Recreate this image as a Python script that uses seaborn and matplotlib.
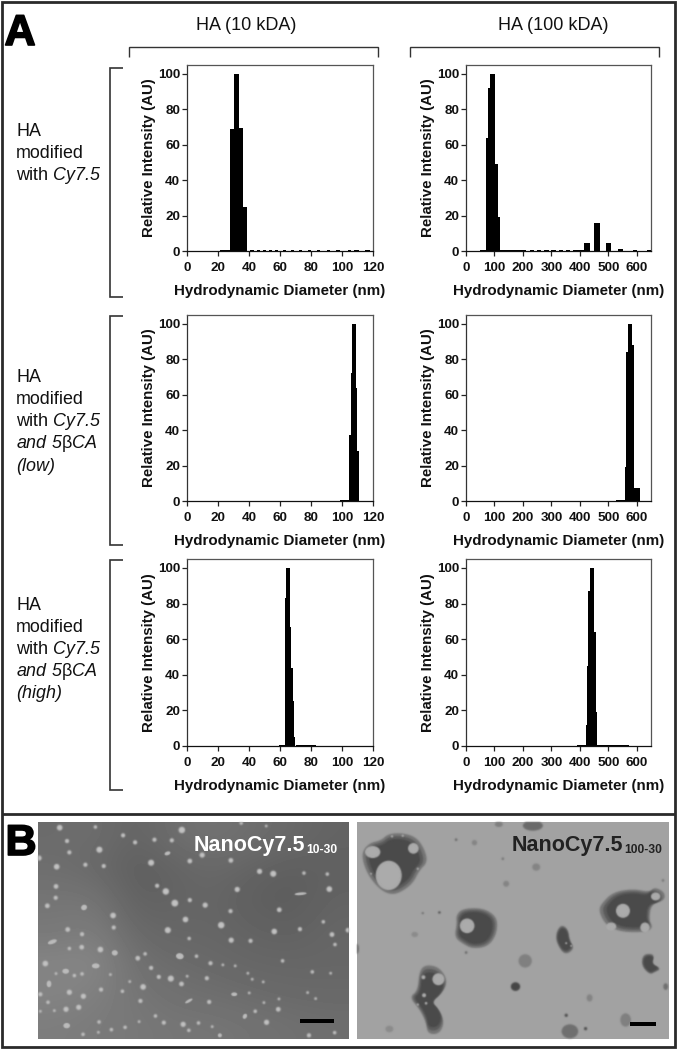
import numpy as np
import seaborn as sns
import matplotlib.pyplot as plt
import matplotlib.patheffects as pe
from matplotlib.lines import Line2D
from matplotlib.patches import Ellipse, Polygon, Rectangle

W, H = 678, 1050

# Size distributions: bin edges (nm) and relative intensity per bin
EDGES_10_CY = [21, 28, 30.5, 33.5, 36, 39, 40.5, 43, 45, 47, 49, 51, 53, 55, 57, 59, 62, 64, 67, 69, 72, 74,
               78, 80, 84, 86, 90, 92, 96, 99, 104, 106, 108, 111, 115, 118]
VALS_10_CY = [0.4, 69, 100, 69.5, 25, 0.1, 0.5, 0, 0.5, 0, 0.5, 0, 0.5, 0, 0.5, 0, 0.5, 0, 0.5, 0, 0.5, 0,
              0.5, 0, 0.5, 0, 0.5, 0, 0.5, 0, 0.5, 0, 0.5, 0, 0.5]
EDGES_100_CY = [50, 70, 78, 85, 103, 111, 120, 200, 212, 225, 240, 250, 265, 275, 290, 300, 315, 325, 340, 350,
                365, 375, 414, 434, 451, 471, 491, 511, 534, 553, 585, 601, 636, 650]
VALS_100_CY = [0.4, 64, 92, 100, 49, 19, 0.5, 0.5, 0, 0.5, 0, 0.5, 0, 0.5, 0, 0.5, 0, 0.5, 0, 0.5,
               0, 0.5, 4.5, 0, 16, 0, 4.5, 0, 1.3, 0, 0.6, 0, 0.5]
EDGES_10_LOW = [98.5, 104.5, 105.6, 106.7, 108.8, 109.7, 111]
VALS_10_LOW = [0.4, 37, 72, 100, 64, 28]
EDGES_100_LOW = [528, 558, 563, 569, 584, 590, 610]
VALS_100_LOW = [0.4, 19, 84, 100, 88, 7.5]
EDGES_10_HIGH = [59.5, 63.1, 63.8, 66.4, 67.4, 68.3, 69.1, 70, 83]
VALS_10_HIGH = [0.4, 83, 100, 67, 44, 25, 5, 0.5]
EDGES_100_HIGH = [390, 420, 425, 430, 435, 451, 457, 461.5, 571]
VALS_100_HIGH = [0.4, 12, 45, 87, 100, 64, 19, 0.5]

X_TICKS_10 = [0, 20, 40, 60, 80, 100, 120]
X_TICKS_100 = [0, 100, 200, 300, 400, 500, 600]
Y_TICKS = [0, 20, 40, 60, 80, 100]

COLUMN_TITLES = ["HA (10 kDA)", "HA (100 kDA)"]
# mathtext rm is set to the italic face below, sf to the upright one for the beta
ROW_LABELS = [
    ["HA", "modified", r"with $\mathrm{Cy7.5}$"],
    ["HA", "modified", r"with $\mathrm{Cy7.5}$", r"$\mathrm{and\ 5}\mathsf{\beta}\mathrm{CA}$", r"$\mathrm{(low)}$"],
    ["HA", "modified", r"with $\mathrm{Cy7.5}$", r"$\mathrm{and\ 5}\mathsf{\beta}\mathrm{CA}$", r"$\mathrm{(high)}$"],
]

BG_LEFT = [
    [.42, .43, .39, .43, .45, .43, .41, .39],
    [.43, .41, .37, .39, .41, .39, .37, .38],
    [.46, .46, .38, .39, .40, .37, .36, .39],
    [.47, .49, .41, .40, .40, .39, .38, .40],
    [.52, .53, .44, .42, .41, .40, .40, .40],
    [.52, .50, .46, .44, .43, .42, .41, .41],
    [.49, .48, .47, .46, .46, .45, .44, .43],
]
DOTS_X = [68, 175, 434, 612, 687, 258, 90, 294, 352, 404, 187, 97, 6, 458, 495, 581, 59, 145, 200, 342, 667, 708,
          800, 870, 600, 876, 57, 360, 386, 56, 458, 413, 31, 504, 580, 726, 228, 445, 858, 552, 92, 230, 392, 711,
          788, 932, 884, 135, 582, 640, 456, 97, 134, 190, 893, 302, 324, 25, 520, 478, 736, 342, 557, 594, 825, 57,
          112, 135, 220, 365, 401, 509, 450, 645, 278, 433, 678, 318, 97, 192, 256, 139, 10, 811, 33, 310, 516, 125,
          87, 835, 723, 654, 355, 688, 186, 306, 380, 438, 484, 264, 223, 184, 138, 455, 815, 892, 525, 10, 52, 725,
          680, 636, 632, 880]
DOTS_Y = [22, 20, 29, 8, 17, 45, 62, 66, 58, 60, 88, 96, 113, 122, 104, 120, 139, 133, 137, 127, 153, 160,
          158, 161, 207, 206, 198, 196, 213, 232, 239, 248, 256, 254, 272, 268, 285, 297, 304, 314, 327, 321, 329, 333,
          326, 329, 342, 341, 359, 361, 354, 384, 380, 387, 372, 413, 400, 429, 428, 407, 421, 442, 433, 436, 454, 459,
          465, 460, 462, 469, 474, 473, 467, 476, 483, 490, 484, 499, 515, 507, 512, 527, 521, 516, 545, 541, 544, 560,
          566, 534, 566, 572, 586, 605, 604, 603, 606, 611, 607, 620, 627, 635, 641, 629, 644, 636, 618, 572, 570, 535,
          546, 517, 458, 458]
DOTS_S = [9, 5, 11, 5, 4, 6, 6, 6, 6, 6, 10, 6, 8, 7, 8, 7, 9, 6, 6, 10, 8, 10,
          5, 5, 8, 9, 7, 6, 11, 6, 6, 12, 7, 8, 6, 7, 9, 9, 5, 11, 7, 6, 10, 9,
          6, 7, 7, 6, 8, 6, 5, 5, 7, 9, 5, 7, 5, 9, 6, 5, 5, 6, 4, 4, 5, 4,
          5, 5, 4, 6, 10, 6, 4, 4, 4, 7, 4, 9, 8, 6, 5, 8, 6, 4, 5, 6, 6, 8,
          8, 4, 7, 5, 5, 8, 5, 4, 6, 8, 5, 5, 5, 4, 5, 5, 6, 5, 4, 4, 4, 4,
          4, 4, 4, 4]
BIG_X = [141, 46, 176, 233, 86, 36, 428, 455, 591, 623, 89, 790, 391, 548]
BIG_Y = [261, 364, 436, 397, 452, 490, 407, 541, 521, 587, 615, 220, 99, 644]
BIG_W = [18, 28, 23, 18, 20, 14, 23, 25, 18, 12, 20, 36, 18, 12]
BIG_H = [16, 12, 15, 16, 15, 20, 18, 8, 11, 16, 16, 8, 11, 12]
BIG_A = [-30, -20, 0, 0, 0, 0, 10, -30, 0, 30, 0, -5, -20, 0]

# Micrograph, right: outlines of the dark aggregates, their holes and smaller specks
BLOB_1 = [(97, 40), (140, 38), (180, 50), (205, 85), (215, 125), (190, 150), (170, 190), (130, 218), (100, 222),
          (70, 205), (40, 170), (22, 130), (18, 95), (40, 68), (75, 60)]
BLOB_2 = [(318, 265), (370, 262), (405, 275), (425, 300), (420, 345), (395, 378), (350, 385), (320, 370),
          (295, 350), (302, 310), (300, 285)]
BLOB_3 = [(735, 250), (770, 215), (830, 205), (880, 215), (895, 200), (925, 215), (925, 240), (885, 250),
          (878, 300), (890, 320), (870, 335), (800, 335), (760, 320), (740, 300), (728, 270)]
BLOB_4 = [(190, 450), (210, 432), (250, 440), (275, 480), (260, 515), (225, 545), (250, 570), (265, 605),
          (250, 640), (215, 640), (210, 605), (190, 565), (160, 530), (185, 510)]
BLOB_5 = [(615, 312), (635, 325), (640, 360), (655, 385), (625, 405), (600, 365), (600, 335)]
BLOB_6 = [(860, 400), (895, 400), (885, 430), (915, 445), (895, 455), (880, 462), (855, 435)]
BLOBS = [BLOB_1, BLOB_2, BLOB_3, BLOB_4, BLOB_5, BLOB_6]
HOLE_X = [50, 172, 98, 333, 800, 898, 765, 866, 247, 202, 204, 140, 108, 185, 45, 630, 645, 185, 210]
HOLE_Y = [95, 84, 165, 316, 271, 228, 318, 321, 476, 470, 524, 46, 48, 145, 160, 368, 376, 552, 548]
HOLE_W = [46, 32, 78, 44, 42, 28, 30, 28, 36, 12, 12, 7, 7, 7, 6, 6, 6, 7, 8]
HOLE_H = [36, 32, 88, 44, 42, 24, 24, 30, 36, 12, 12, 7, 7, 7, 6, 6, 6, 7, 8]
SPECK_X = [507, 478, 641, 530, 808, 540, 450, 355, 428, 176, 100, 700, 3, 928, 300, 250, 200, 630, 688, 330, 920, 440]
SPECK_Y = [421, 498, 632, 16, 598, 140, 190, 67, 12, 342, 625, 532, 385, 498, 58, 276, 278, 584, 624, 396, 180, 115]
SPECK_W = [40, 28, 50, 60, 32, 24, 18, 16, 24, 20, 24, 18, 12, 14, 8, 8, 7, 10, 10, 8, 8, 8]
SPECK_H = [40, 26, 42, 30, 40, 22, 18, 16, 16, 16, 20, 22, 30, 20, 8, 7, 6, 10, 10, 8, 8, 8]
SPECK_G = [.5, .28, .44, .42, .5, .52, .52, .52, .5, .55, .55, .52, .44, .44, .42, .32, .42, .32, .32, .42, .47, .47]


def soft(img, dpi, radius=3, sigma=1.0):
    # gaussian blur for one artist, the micrographs are out of focus
    pad = radius + 1
    img = np.pad(img, ((pad, pad), (pad, pad), (0, 0)))
    alpha = img[..., 3:]
    out = np.concatenate([img[..., :3] * alpha, alpha], axis=2)
    weights = np.exp(-np.arange(-radius, radius + 1) ** 2 / (2 * sigma ** 2))
    weights = weights / weights.sum()
    for axis in (0, 1):
        out = sum(w * np.roll(out, i - radius, axis=axis) for i, w in enumerate(weights))
    a = np.clip(out[..., 3:], 1e-4, 1)
    return np.concatenate([np.clip(out[..., :3] / a, 0, 1), out[..., 3:]], axis=2), -pad, -pad


def rounded(points, rounds=2):
    # corner cutting, so the outlines are not angular
    pts = np.array(points, dtype=float)
    for _ in range(rounds):
        nxt = np.roll(pts, -1, axis=0)
        pts = np.column_stack([0.75 * pts + 0.25 * nxt, 0.25 * pts + 0.75 * nxt]).reshape(-1, 2)
    return pts


def px_axes(fig, left, top, right, bottom):
    return fig.add_axes([left / W, 1 - bottom / H, (right - left) / W, (bottom - top) / H])


def fig_line(fig, xs, ys, lw=1.0, color="#333333"):
    fig.add_artist(Line2D([x / W for x in xs], [1 - y / H for y in ys], color=color, lw=lw,
                          solid_joinstyle="miter", solid_capstyle="butt"))


def size_plot(fig, box, edges, vals, xticks, xmax):
    ax = px_axes(fig, *box)
    mids = (np.array(edges[:-1]) + np.array(edges[1:])) / 2
    # bins has to stay a list here, seaborn compares it with "auto"
    sns.histplot(x=mids, weights=vals, bins=list(edges), color="black", alpha=1, linewidth=0, ax=ax)
    ax.set_xlim(0, xmax)
    ax.set_ylim(0, 105)
    ax.set_xticks(xticks)
    ax.set_yticks(Y_TICKS)
    ax.tick_params(length=3.4, width=0.9, labelsize=9.7, color="#222222")
    ax.tick_params(axis="x", pad=4.2)
    ax.tick_params(axis="y", pad=1.5)
    for label in ax.get_xticklabels() + ax.get_yticklabels():
        label.set_fontweight("bold")
    ax.set_xlabel("Hydrodynamic Diameter (nm)", fontsize=10.9, fontweight="bold", labelpad=7.5)
    ax.set_ylabel("Relative Intensity (AU)", fontsize=10.8, fontweight="bold", labelpad=1.5)
    for side in ["top", "right"]:
        ax.spines[side].set_color("#555555")
    for side in ax.spines:
        ax.spines[side].set_linewidth(0.9)
    ax.spines["bottom"].set_color("#111111")
    ax.spines["left"].set_color("#333333")
    return ax


def photo_left(fig):
    ax = px_axes(fig, 38, 822, 349, 1039)
    ax.imshow(BG_LEFT, cmap="gray", vmin=0, vmax=1, interpolation="bicubic", aspect="auto",
              extent=(3, 935, 655, 5))
    sns.scatterplot(x=DOTS_X, y=DOTS_Y, size=DOTS_S, sizes=(4, 24), color="#c4c4c4", linewidth=0,
                    legend=False, ax=ax)
    ax.collections[-1].set_agg_filter(lambda img, dpi: soft(img, dpi, 2, 0.6))
    for x, y, w, h, a in zip(BIG_X, BIG_Y, BIG_W, BIG_H, BIG_A):
        ax.add_patch(Ellipse((x, y), w, h, angle=a, color="#bcbcbc", lw=0,
                             agg_filter=lambda img, dpi: soft(img, dpi, 2, 0.6)))
    ax.add_patch(Rectangle((788, 596), 102, 11, color="black", lw=0))
    ax.set_xlim(3, 935)
    ax.set_ylim(655, 5)
    ax.axis("off")


def photo_right(fig):
    ax = px_axes(fig, 357, 822, 669, 1039)
    ax.add_patch(Rectangle((0, 0), 1, 1, transform=ax.transAxes, color="#a2a2a2", lw=0))
    for blob in BLOBS:
        pts = rounded(blob)
        mid = pts.mean(axis=0)
        # darker towards the middle of each aggregate
        for scale, gray in zip([1.0, 0.9, 0.8], ["#767676", "#5c5c5c", "#4a4a4a"]):
            ax.add_patch(Polygon(mid + (pts - mid) * scale, closed=True, color=gray, lw=0,
                                 agg_filter=lambda img, dpi: soft(img, dpi, 2, 0.8)))
    for x, y, w, h in zip(HOLE_X, HOLE_Y, HOLE_W, HOLE_H):
        ax.add_patch(Ellipse((x, y), w, h, color="#ababab", lw=0,
                             agg_filter=lambda img, dpi: soft(img, dpi, 2, 0.7)))
    for x, y, w, h, g in zip(SPECK_X, SPECK_Y, SPECK_W, SPECK_H, SPECK_G):
        ax.add_patch(Ellipse((x, y), w, h, color=str(g), lw=0,
                             agg_filter=lambda img, dpi: soft(img, dpi, 2, 0.8)))
    ax.add_patch(Rectangle((820, 605), 78, 10, color="black", lw=0))
    ax.set_xlim(3, 938)
    ax.set_ylim(655, 5)
    ax.axis("off")


sns.set_theme(style="ticks")
plt.rcParams["font.family"] = ["Liberation Sans", "DejaVu Sans"]
plt.rcParams["mathtext.fontset"] = "custom"
plt.rcParams["mathtext.rm"] = "Liberation Sans:italic"
plt.rcParams["mathtext.sf"] = "Liberation Sans"
plt.rcParams["text.color"] = "#111111"
plt.rcParams["axes.labelcolor"] = "#111111"
plt.rcParams["xtick.labelcolor"] = "#111111"
plt.rcParams["ytick.labelcolor"] = "#111111"

fig = plt.figure(figsize=(W / 100, H / 100), dpi=100, facecolor="white")

size_plot(fig, (187, 65, 373, 251), EDGES_10_CY, VALS_10_CY, X_TICKS_10, 120)
size_plot(fig, (466, 65, 651, 251), EDGES_100_CY, VALS_100_CY, X_TICKS_100, 650)
size_plot(fig, (187, 315, 373, 501), EDGES_10_LOW, VALS_10_LOW, X_TICKS_10, 120)
size_plot(fig, (466, 315, 651, 501), EDGES_100_LOW, VALS_100_LOW, X_TICKS_100, 650)
size_plot(fig, (187, 559, 373, 746), EDGES_10_HIGH, VALS_10_HIGH, X_TICKS_10, 120)
size_plot(fig, (466, 559, 651, 746), EDGES_100_HIGH, VALS_100_HIGH, X_TICKS_100, 650)

photo_left(fig)
photo_right(fig)


def txt(x, y, s, **kw):
    fig.text(x / W, 1 - y / H, s, **kw)


# column headers and brackets
for title, cx, x0, x1 in zip(COLUMN_TITLES, [246, 553], [129, 410], [378, 659]):
    txt(cx, 26, title, fontsize=13, ha="center", va="center")
    fig_line(fig, [x0, x0, x1, x1], [57, 47, 47, 57])

# row labels and brackets
for lines, ys in zip(ROW_LABELS, [[132, 153, 175], [377, 399, 421, 443, 466], [606, 627, 649, 671, 694]]):
    for line, y in zip(lines, ys):
        txt(16, y, line, fontsize=12.9, ha="left", va="center")
for top, bottom in [(68, 297), (316, 545), (560, 790)]:
    fig_line(fig, [123, 110, 110, 123], [top, top, bottom, bottom], lw=1.2)

# panel letters
bold_edge = [pe.withStroke(linewidth=1.2, foreground="black")]
txt(20, 45, "A", fontsize=31, fontweight="bold", ha="center", va="baseline", color="black", path_effects=bold_edge)
txt(21, 855, "B", fontsize=31, fontweight="bold", ha="center", va="baseline", color="black", path_effects=bold_edge)

# labels on the micrographs
txt(305, 851, "NanoCy7.5", fontsize=15.5, fontweight="bold", ha="right", va="baseline", color="white")
txt(306, 853, "10-30", fontsize=8.7, fontweight="bold", ha="left", va="baseline", color="white")
txt(623, 851, "NanoCy7.5", fontsize=15.5, fontweight="bold", ha="right", va="baseline", color="#222222")
txt(624, 853, "100-30", fontsize=8.7, fontweight="bold", ha="left", va="baseline", color="#222222")

# outer frames
fig.add_artist(Rectangle((2 / W, 1 - 1047 / H), 673 / W, 1045 / H, transform=fig.transFigure, fill=False,
                         edgecolor="#2a2a2a", lw=2))
fig_line(fig, [2, 675], [814, 814], lw=2, color="#2a2a2a")

fig.savefig("out.png", dpi=100)
